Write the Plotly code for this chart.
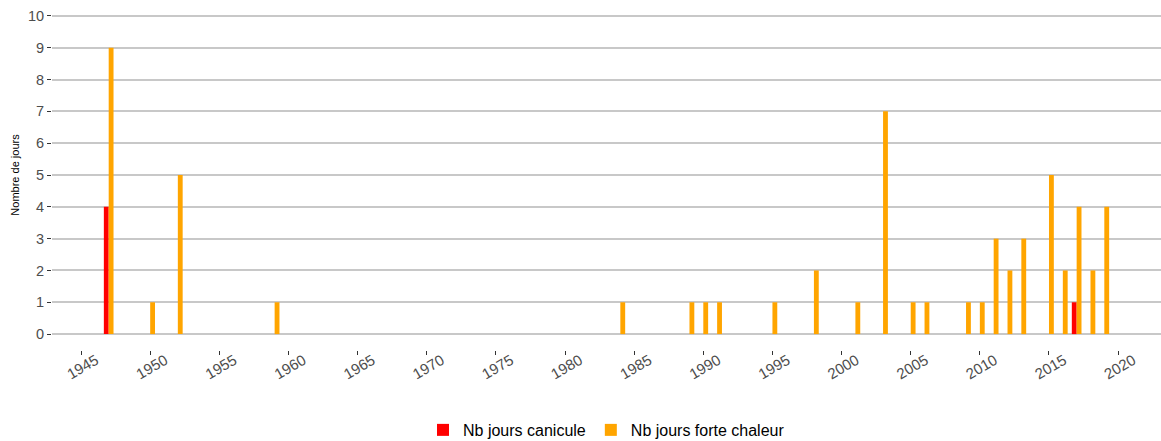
import plotly.graph_objects as go

# Data
canicule_years = [1947, 2017]
canicule_days = [4, 1]

chaleur_years = [1947, 1950, 1952, 1959, 1984, 1989, 1990, 1991, 1995, 1998,
                 2001, 2003, 2005, 2006, 2009, 2010, 2011, 2012, 2013, 2015,
                 2016, 2017, 2018, 2019]
chaleur_days = [9, 1, 5, 1, 1, 1, 1, 1, 1, 2,
                1, 7, 1, 1, 1, 1, 3, 2, 3, 5,
                2, 4, 2, 4]

x_ticks = list(range(1945, 2021, 5))
y_ticks = list(range(0, 11))

fig = go.Figure()
fig.add_trace(go.Bar(x=canicule_years, y=canicule_days, name="Nb jours canicule",
                     marker=dict(color="#FF0000", line=dict(width=0))))
fig.add_trace(go.Bar(x=chaleur_years, y=chaleur_days, name="Nb jours forte chaleur",
                     marker=dict(color="#FFA500", line=dict(width=0))))

# white breaks in the horizontal gridlines at the x tick positions
for t in x_ticks:
    fig.add_shape(type="line", x0=t, x1=t, y0=0, y1=1, xref="x", yref="paper",
                  line=dict(color="white", width=2.5), layer="between")

fig.update_layout(
    width=1161, height=441,
    margin=dict(l=52, r=0, t=0, b=91),
    plot_bgcolor="white", paper_bgcolor="white",
    barmode="group", bargap=0.3, bargroupgap=0,
    font=dict(family="Liberation Sans, Arial, sans-serif", size=14, color="#4D4D4D"),
    showlegend=True,
    legend=dict(orientation="h", x=0.5, xanchor="center", xref="paper",
                y=0.025, yanchor="middle", yref="container",
                font=dict(size=16, color="black"), traceorder="normal"),
    xaxis=dict(range=[1942.9, 2023.1], tickmode="array", tickvals=x_ticks,
               ticktext=[str(t) for t in x_ticks], tickangle=-30,
               showgrid=False, zeroline=False, showline=False, automargin=False,
               ticks="outside", ticklen=4, tickwidth=1.2, tickcolor="#333333",
               ticklabelshift=15, ticklabelstandoff=-9,
               tickfont=dict(size=15, color="#4D4D4D")),
    yaxis=dict(range=[-0.5, 10.5], tickmode="array", tickvals=y_ticks,
               showgrid=True, gridcolor="#C8C8C8", gridwidth=1.8,
               zeroline=False, showline=False, automargin=False,
               ticks="outside", ticklen=4, tickwidth=1.2, tickcolor="#333333",
               tickfont=dict(size=14.5, color="#4D4D4D"),
               title=dict(text="Nombre de jours", font=dict(size=11, color="black"), standoff=6)),
)

fig.write_html("out.html", config={"displayModeBar": False},
               post_script="document.body.style.margin='0';document.body.style.overflow='hidden';")
